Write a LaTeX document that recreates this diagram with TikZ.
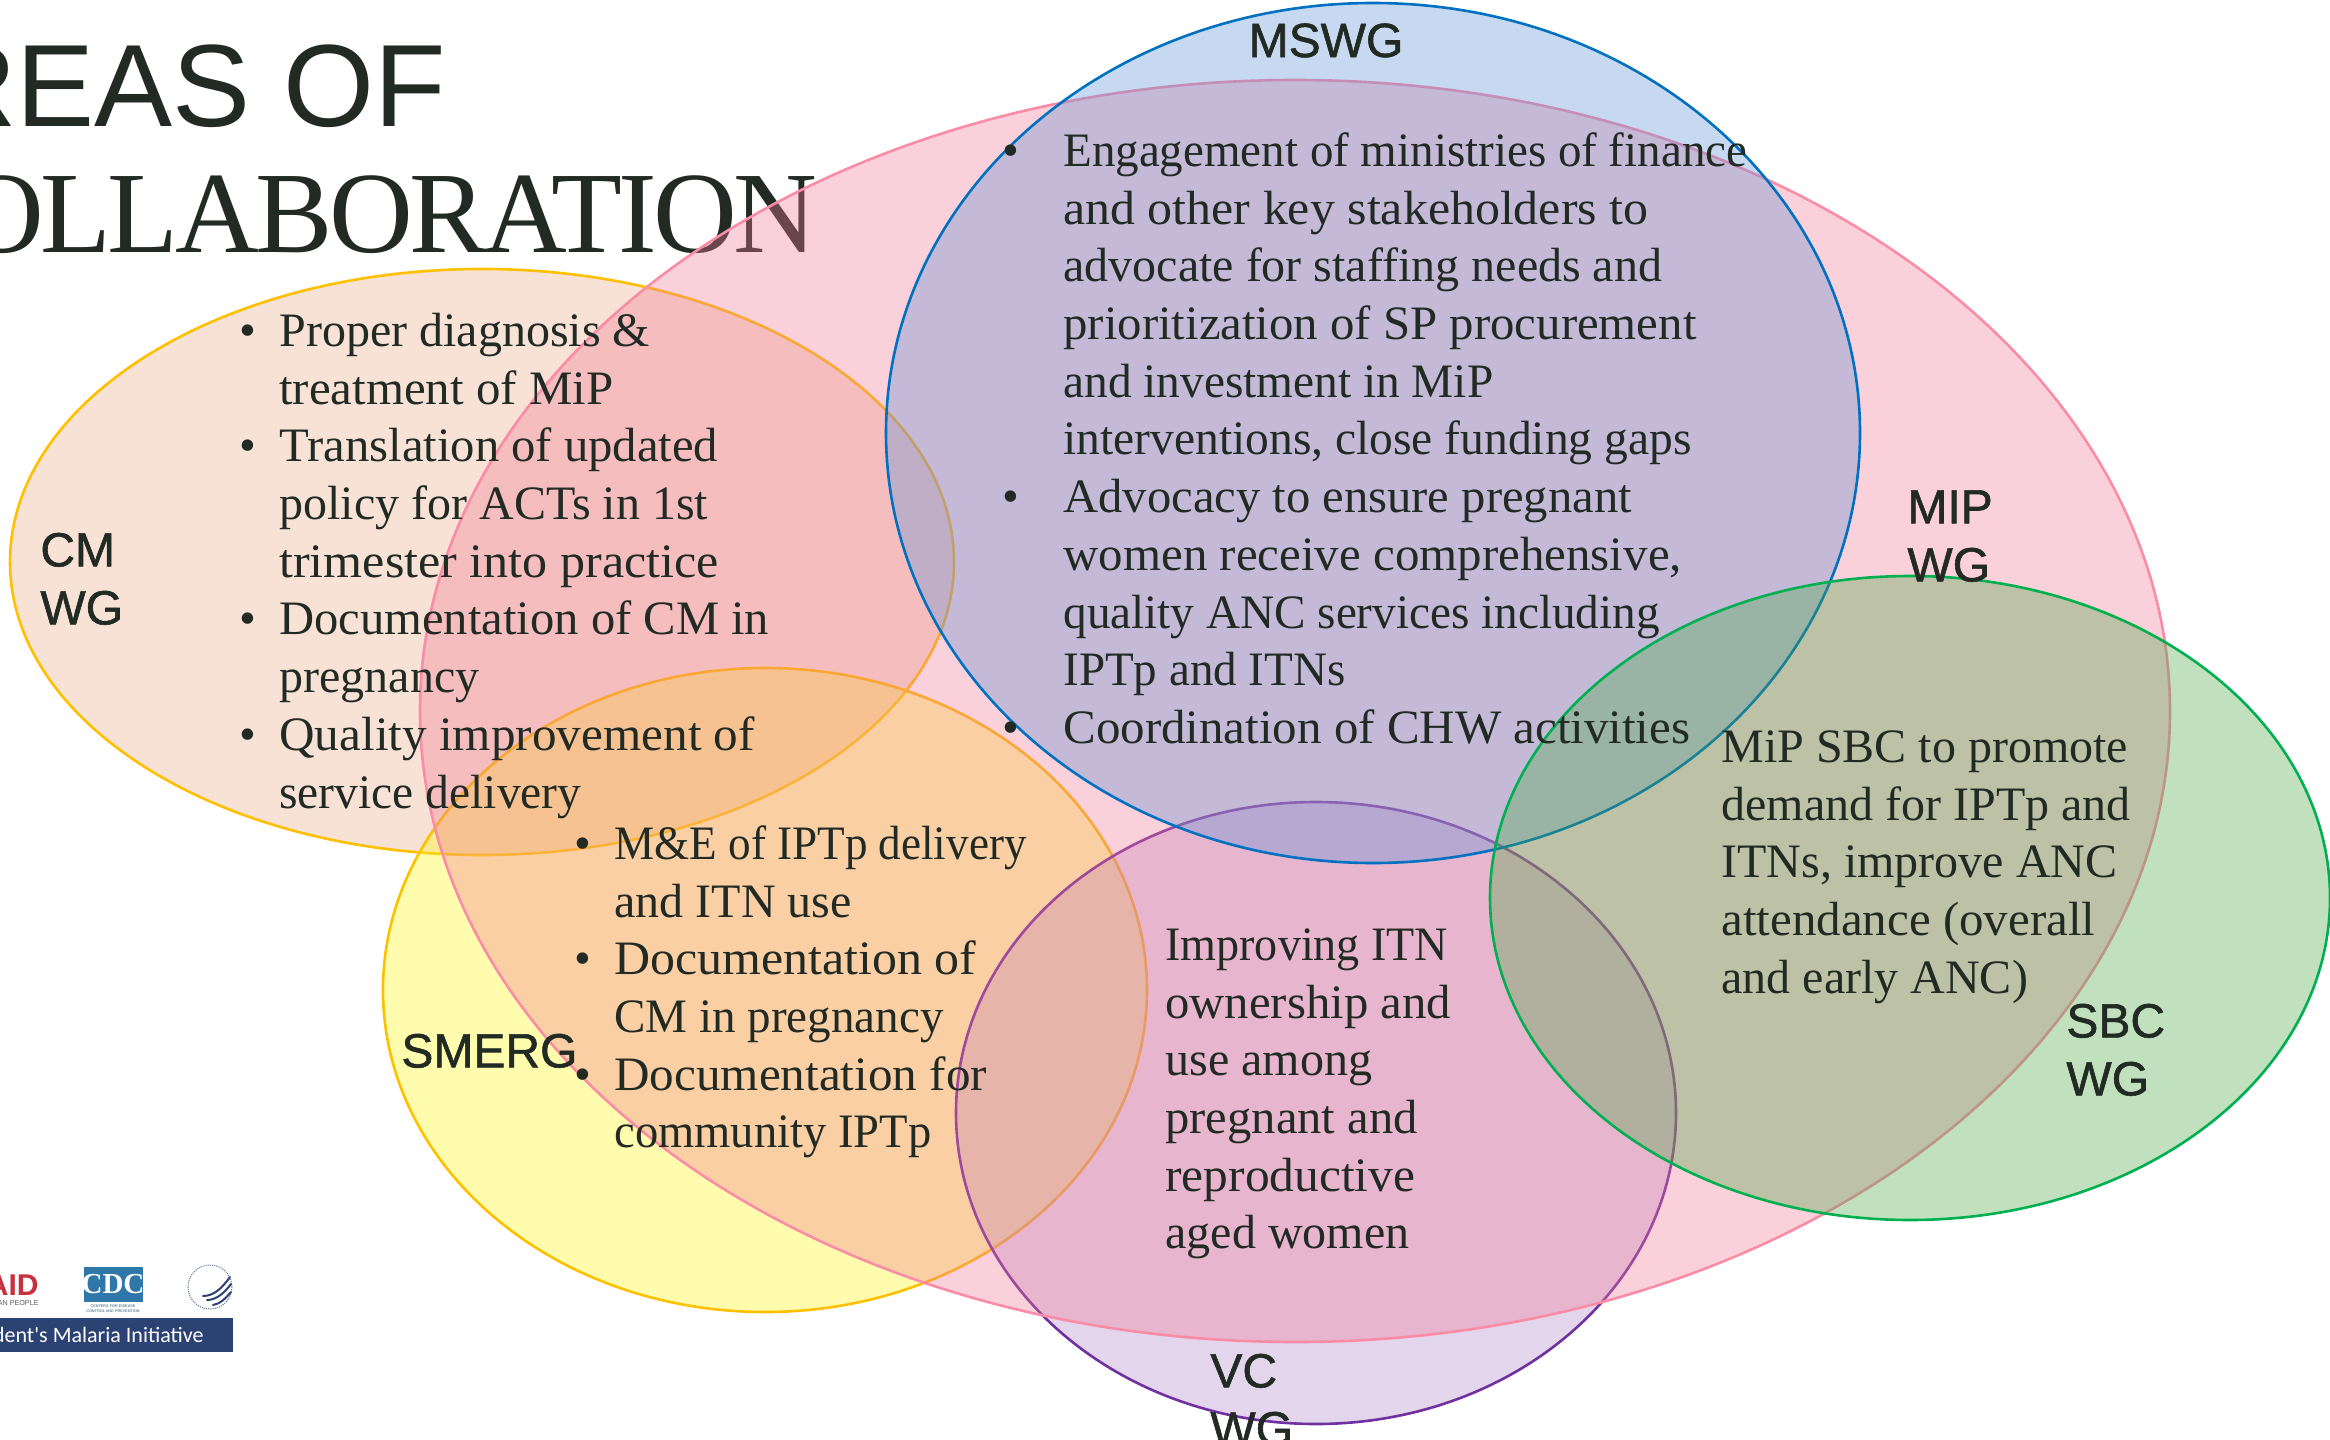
\documentclass[tikz,border=0pt]{standalone}
\usepackage{graphicx}
\usepackage{fontspec}
\setmainfont{Liberation Serif}
\newfontfamily\lsans{Liberation Sans}
\newfontfamily\wgsans[FakeBold=1.2]{Liberation Sans}
\newfontfamily\ttlserif[LetterSpace=-3]{Liberation Serif}
\newfontfamily\logofont{Carlito}
\definecolor{ink}{HTML}{222A24}
\definecolor{mipfill}{HTML}{F17995}
\definecolor{mipline}{HTML}{FB8CA6}
\definecolor{mswfill}{HTML}{5F92D7}
\definecolor{mswline}{HTML}{0070C0}
\definecolor{cmfill}{HTML}{E8AC87}
\definecolor{goldline}{HTML}{FFC000}
\definecolor{smfill}{HTML}{FFF915}
\definecolor{vcfill}{HTML}{AF87C9}
\definecolor{vcline}{HTML}{7030A0}
\definecolor{sbcfill}{HTML}{4BA645}
\definecolor{sbcline}{HTML}{00B050}
\definecolor{pminavy}{HTML}{2B4273}
\definecolor{cdcblue}{HTML}{2F77A8}
\definecolor{aidred}{HTML}{C8303F}
\newcommand{\fl}{\rule{0pt}{20pt}}
\newcommand{\bul}[1]{\llap{\textbullet\hspace{#1pt}}}
\newcommand{\sx}[2]{\scalebox{#1}[1]{#2}}
\tikzset{
  x=0.5pt,y=-0.5pt,
  venn/.style={line width=1.3pt,fill opacity=0.35},
  body/.style={anchor=north west,inner sep=0pt,align=left,text=ink,
    font=\fontsize{24}{28.85}\selectfont},
  wg/.style={anchor=north west,inner sep=0pt,align=left,text=ink,
    font=\wgsans\fontsize{24}{29}\selectfont},
}
\begin{document}
\begin{tikzpicture}
\useasboundingbox (0,0) rectangle (2330,1440);
\clip (0,0) rectangle (2330,1440);
% title
\node[anchor=base east,inner sep=0pt,text=ink,font=\lsans\fontsize{58.5}{60}\selectfont] (title1) at (446,126) {AREAS OF};
\node[anchor=base east,inner sep=0pt,text=ink,font=\ttlserif\fontsize{58}{60}\selectfont] (title2) at (818,252) {COLLABORATION};
% circles
\draw[venn,draw=goldline,fill=cmfill] (482,562) ellipse [x radius=472,y radius=293];
\draw[venn,draw=goldline,fill=smfill] (765,990) ellipse [x radius=382,y radius=322];
\draw[venn,draw=vcline,fill=vcfill] (1316,1113) ellipse [x radius=360,y radius=311];
\draw[venn,draw=mipline,fill=mipfill] (1295,711) ellipse [x radius=875,y radius=631];
\draw[venn,draw=mswline,fill=mswfill] (1373,433) ellipse [x radius=487,y radius=430];
\draw[venn,draw=sbcline,fill=sbcfill] (1910,898) ellipse [x radius=420,y radius=322];
% group labels
\node[anchor=base,inner sep=0pt,text=ink,font=\wgsans\fontsize{24}{29}\selectfont] (mswg) at (1326,57) {MSWG};
\node[wg] (mip) at (1907,483) {\fl MIP\\WG};
\node[wg] (cm) at (40,526) {\fl CM\\WG};
\node[wg] (smerg) at (401,1027) {\fl SMERG};
\node[wg] (sbc) at (2066,997) {\fl SBC\\WG};
\node[wg] (vc) at (1210,1347) {\fl VC\\WG};
% texts
\node[body] (tmsw) at (1063,126) {\fl\bul{22}\sx{0.979}{Engagement of ministries of finance}\\
\sx{1.04}{and other key stakeholders to}\\
advocate for staffing needs and\\
\sx{1.017}{prioritization of SP procurement}\\
\sx{0.986}{and investment in MiP}\\
\sx{0.99}{interventions, close funding gaps}\\
\bul{22}\sx{1.013}{Advocacy to ensure pregnant}\\
\sx{1.02}{women receive comprehensive,}\\
\sx{0.983}{quality ANC services including}\\
\sx{0.98}{IPTp and ITNs}\\
\bul{22}\sx{1.02}{Coordination of CHW activities}};
\node[body] (tcm) at (279,306) {\fl\bul{11.5}Proper diagnosis \&\\
\sx{1.018}{treatment of MiP}\\
\bul{11.5}\sx{1.014}{Translation of updated}\\
policy for ACTs in 1st\\
\sx{1.043}{trimester into practice}\\
\bul{11.5}\sx{1.012}{Documentation of CM in}\\
pregnancy\\
\bul{11.5}\sx{1.025}{Quality improvement of}\\
\sx{0.99}{service delivery}};
\node[body] (tsm) at (614,819) {\fl\bul{11.5}\sx{0.94}{M\&E of IPTp delivery}\\
and ITN use\\
\bul{11.5}\sx{1.04}{Documentation of}\\
\sx{0.98}{CM in pregnancy}\\
\bul{11.5}\sx{1.024}{Documentation for}\\
\sx{0.97}{community IPTp}};
\node[body] (tvc) at (1165,920) {\fl\sx{0.96}{Improving ITN}\\
\sx{1.015}{ownership and}\\
use among\\
\sx{1.012}{pregnant and}\\
\sx{1.03}{reproductive}\\
aged women};
\node[body] (tsbc) at (1721,722) {\fl MiP SBC to promote\\
demand for IPTp and\\
ITNs, improve ANC\\
\sx{1.02}{attendance (overall}\\
and early ANC)};
% logo strip
\begin{scope}
\clip (0,1260) rectangle (233,1352);
\fill[pminavy] (0,1318) rectangle (233,1352);
\node[anchor=base east,inner sep=0pt,text=white,font=\logofont\fontsize{11}{12}\selectfont] (pmi) at (204,1342) {President's Malaria Initiative};
\node[anchor=base east,inner sep=0pt,text=aidred,font=\lsans\bfseries\fontsize{15}{15}\selectfont] (aid) at (39,1295) {USAID};
\node[anchor=base east,inner sep=0pt,text=black!65,font=\lsans\fontsize{3.6}{4}\selectfont] (people) at (39,1305) {FROM THE AMERICAN PEOPLE};
\fill[cdcblue] (84,1267) rectangle (143,1302);
\node[anchor=center,inner sep=0pt,text=white,font=\bfseries\fontsize{14.5}{15}\selectfont] (cdc) at (113,1284) {CDC};
\node[anchor=north,inner sep=0pt,align=center,text=cdcblue!70!black,font=\lsans\fontsize{1.9}{2.6}\selectfont] (cdctag) at (113,1304) {CENTERS FOR DISEASE\\CONTROL AND PREVENTION};
\draw[pminavy!70,line width=0.5pt,dash pattern=on 0.6pt off 0.5pt] (210,1287) circle [radius=22];
\draw[pminavy,line width=1pt,line cap=round] (203,1296) .. controls (214,1296) and (222,1288) .. (230,1277);
\draw[pminavy,line width=1pt,line cap=round] (207,1300) .. controls (217,1300) and (225,1292) .. (231,1284);
\draw[pminavy,line width=1pt,line cap=round] (213,1305) .. controls (220,1304) and (226,1298) .. (231,1292);
\end{scope}
\end{tikzpicture}
\end{document}
